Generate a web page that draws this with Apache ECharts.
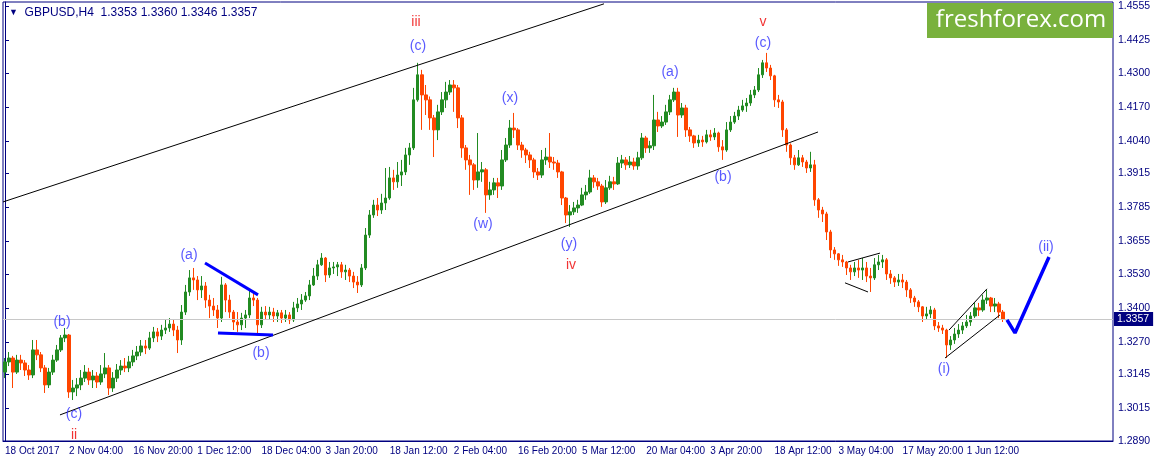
<!DOCTYPE html>
<html><head><meta charset="utf-8">
<script src="https://cdn.jsdelivr.net/npm/echarts@6/dist/echarts.min.js"></script>
<style>html,body{margin:0;padding:0;background:#fff}#c{width:1155px;height:464px}</style>
</head><body><div id="c"></div>
<script>
// ---- time axis labels (one every 64 H4 bars = every 16 slots) ----
const timeLabels = ['18 Oct 2017','2 Nov 04:00','16 Nov 20:00','1 Dec 12:00','18 Dec 04:00','3 Jan 20:00','18 Jan 12:00','2 Feb 04:00','16 Feb 20:00','5 Mar 12:00','20 Mar 04:00','3 Apr 20:00','18 Apr 12:00','3 May 04:00','17 May 20:00','1 Jun 12:00'];
const slotsPerLabel = 16;
const slotCount = 277;
const priceTicks = [1.4555,1.4425,1.4300,1.4170,1.4040,1.3915,1.3785,1.3655,1.3530,1.3400,1.3270,1.3145,1.3015,1.2890];
const headerText = 'GBPUSD,H4  1.3353 1.3360 1.3346 1.3357';

// ---- candles ----
const opens = [
1.3154,1.3193,1.3208,1.3154,1.3200,1.3189,1.3162,1.3143,1.3239,1.3220,
1.3170,1.3105,1.3154,1.3200,1.3239,1.3285,1.3296,1.3078,1.3093,1.3105,
1.3131,1.3154,1.3124,1.3139,1.3116,1.3147,1.3170,1.3093,1.3131,1.3162,
1.3177,1.3170,1.3193,1.3216,1.3231,1.3254,1.3246,1.3285,1.3308,1.3292,
1.3315,1.3323,1.3338,1.3315,1.3277,1.3384,1.3461,1.3515,1.3507,1.3469,
1.3484,1.3430,1.3407,1.3392,1.3361,1.3488,1.3430,1.3384,1.3346,1.3335,
1.3361,1.3373,1.3438,1.3430,1.3335,1.3384,1.3373,1.3384,1.3369,1.3381,
1.3361,1.3373,1.3354,1.3400,1.3415,1.3430,1.3446,1.3488,1.3522,1.3565,
1.3591,1.3526,1.3553,1.3557,1.3565,1.3538,1.3545,1.3522,1.3499,1.3488,
1.3553,1.3679,1.3756,1.3794,1.3775,1.3802,1.3821,1.3898,1.3883,1.3909,
1.3921,1.3986,1.4013,1.4197,1.4293,1.4216,1.4197,1.4128,1.4082,1.4151,
1.4197,1.4227,1.4254,1.4243,1.4128,1.4013,1.3967,1.3948,1.3890,1.3921,
1.3929,1.3833,1.3852,1.3879,1.3867,1.3967,1.4024,1.4089,1.4082,1.4024,
1.4005,1.3986,1.3967,1.3921,1.3909,1.3967,1.3978,1.3959,1.3955,1.3921,
1.3821,1.3756,1.3768,1.3783,1.3794,1.3833,1.3844,1.3898,1.3883,1.3867,
1.3806,1.3860,1.3883,1.3875,1.3955,1.3967,1.3948,1.3959,1.3944,1.3975,
1.4051,1.4013,1.4021,1.4120,1.4097,1.4112,1.4151,1.4197,1.4227,1.4139,
1.4166,1.4082,1.4059,1.4032,1.4043,1.4036,1.4063,1.4055,1.4070,1.4017,
1.4005,1.4082,1.4112,1.4135,1.4158,1.4174,1.4185,1.4216,1.4235,1.4293,
1.4339,1.4319,1.4289,1.4197,1.4189,1.4082,1.4024,1.3975,1.3948,1.3975,
1.3959,1.3936,1.3948,1.3814,1.3775,1.3760,1.3691,1.3622,1.3607,1.3584,
1.3576,1.3553,1.3538,1.3553,1.3545,1.3553,1.3522,1.3515,1.3565,1.3576,
1.3584,1.3530,1.3515,1.3499,1.3507,1.3499,1.3469,1.3438,1.3423,1.3404,
1.3369,1.3377,1.3392,1.3331,1.3323,1.3315,1.3258,1.3277,1.3300,1.3315,
1.3331,1.3346,1.3369,1.3400,1.3392,1.3430,1.3438,1.3407,1.3415,1.3384];
const closes = [
1.3193,1.3208,1.3154,1.3200,1.3189,1.3162,1.3143,1.3239,1.3220,1.3170,
1.3105,1.3154,1.3200,1.3239,1.3285,1.3296,1.3078,1.3093,1.3105,1.3131,
1.3154,1.3124,1.3139,1.3116,1.3147,1.3170,1.3093,1.3131,1.3162,1.3177,
1.3170,1.3193,1.3216,1.3231,1.3254,1.3246,1.3285,1.3308,1.3292,1.3315,
1.3323,1.3338,1.3315,1.3277,1.3384,1.3461,1.3515,1.3507,1.3469,1.3484,
1.3430,1.3407,1.3392,1.3361,1.3488,1.3430,1.3384,1.3346,1.3335,1.3361,
1.3373,1.3438,1.3430,1.3335,1.3384,1.3373,1.3384,1.3369,1.3381,1.3361,
1.3373,1.3354,1.3400,1.3415,1.3430,1.3446,1.3488,1.3522,1.3565,1.3591,
1.3526,1.3553,1.3557,1.3565,1.3538,1.3545,1.3522,1.3499,1.3488,1.3553,
1.3679,1.3756,1.3794,1.3775,1.3802,1.3821,1.3898,1.3883,1.3909,1.3921,
1.3986,1.4013,1.4197,1.4293,1.4216,1.4197,1.4128,1.4082,1.4151,1.4197,
1.4227,1.4254,1.4243,1.4128,1.4013,1.3967,1.3948,1.3890,1.3921,1.3929,
1.3833,1.3852,1.3879,1.3867,1.3967,1.4024,1.4089,1.4082,1.4024,1.4005,
1.3986,1.3967,1.3921,1.3909,1.3967,1.3978,1.3959,1.3955,1.3921,1.3821,
1.3756,1.3768,1.3783,1.3794,1.3833,1.3844,1.3898,1.3883,1.3867,1.3806,
1.3860,1.3883,1.3875,1.3955,1.3967,1.3948,1.3959,1.3944,1.3975,1.4051,
1.4013,1.4021,1.4120,1.4097,1.4112,1.4151,1.4197,1.4227,1.4139,1.4166,
1.4082,1.4059,1.4032,1.4043,1.4036,1.4063,1.4055,1.4070,1.4017,1.4005,
1.4082,1.4112,1.4135,1.4158,1.4174,1.4185,1.4216,1.4235,1.4293,1.4339,
1.4319,1.4289,1.4197,1.4189,1.4082,1.4024,1.3975,1.3948,1.3975,1.3959,
1.3936,1.3948,1.3814,1.3775,1.3760,1.3691,1.3622,1.3607,1.3584,1.3576,
1.3553,1.3538,1.3553,1.3545,1.3553,1.3522,1.3515,1.3565,1.3576,1.3584,
1.3530,1.3515,1.3499,1.3507,1.3499,1.3469,1.3438,1.3423,1.3404,1.3369,
1.3377,1.3392,1.3331,1.3323,1.3315,1.3258,1.3277,1.3300,1.3315,1.3331,
1.3346,1.3369,1.3400,1.3392,1.3430,1.3438,1.3407,1.3415,1.3384,1.3357];
const highs = [
1.3208,1.3231,1.3216,1.3220,1.3220,1.3200,1.3181,1.3277,1.3277,1.3231,
1.3181,1.3170,1.3220,1.3258,1.3296,1.3323,1.3300,1.3124,1.3131,1.3162,
1.3181,1.3170,1.3162,1.3154,1.3181,1.3227,1.3181,1.3154,1.3185,1.3200,
1.3208,1.3216,1.3239,1.3254,1.3277,1.3277,1.3308,1.3327,1.3323,1.3335,
1.3354,1.3361,1.3354,1.3331,1.3411,1.3488,1.3545,1.3553,1.3522,1.3522,
1.3499,1.3450,1.3438,1.3411,1.3519,1.3495,1.3450,1.3392,1.3384,1.3381,
1.3392,1.3469,1.3461,1.3438,1.3404,1.3407,1.3404,1.3400,1.3392,1.3392,
1.3392,1.3384,1.3423,1.3438,1.3453,1.3461,1.3507,1.3553,1.3584,1.3610,
1.3595,1.3576,1.3576,1.3576,1.3576,1.3565,1.3553,1.3538,1.3522,1.3568,
1.3706,1.3775,1.3814,1.3821,1.3837,1.3936,1.3940,1.3929,1.3959,1.3967,
1.4013,1.4032,1.4243,1.4339,1.4312,1.4254,1.4210,1.4139,1.4178,1.4227,
1.4266,1.4273,1.4273,1.4254,1.4139,1.4024,1.3986,1.3955,1.4070,1.3959,
1.3936,1.3883,1.3898,1.3898,1.4005,1.4051,1.4120,1.4147,1.4089,1.4036,
1.4013,1.3998,1.3975,1.3936,1.4005,1.4013,1.4070,1.3978,1.3967,1.3925,
1.3825,1.3794,1.3806,1.3814,1.3860,1.3871,1.3929,1.3909,1.3898,1.3875,
1.3890,1.3906,1.3902,1.3978,1.3986,1.3978,1.3982,1.3975,1.3998,1.4070,
1.4059,1.4040,1.4216,1.4151,1.4135,1.4178,1.4216,1.4243,1.4243,1.4185,
1.4178,1.4093,1.4063,1.4063,1.4059,1.4082,1.4082,1.4089,1.4075,1.4043,
1.4112,1.4135,1.4151,1.4174,1.4197,1.4204,1.4235,1.4250,1.4319,1.4350,
1.4377,1.4331,1.4293,1.4216,1.4197,1.4089,1.4030,1.3986,1.4005,1.3986,
1.3967,1.3998,1.3967,1.3821,1.3787,1.3768,1.3699,1.3633,1.3610,1.3603,
1.3580,1.3565,1.3576,1.3584,1.3591,1.3576,1.3553,1.3591,1.3603,1.3603,
1.3591,1.3545,1.3522,1.3530,1.3530,1.3507,1.3476,1.3446,1.3430,1.3407,
1.3404,1.3407,1.3400,1.3346,1.3335,1.3320,1.3292,1.3323,1.3338,1.3346,
1.3373,1.3384,1.3419,1.3419,1.3450,1.3469,1.3442,1.3438,1.3423,1.3392];
const lows = [
1.3131,1.3177,1.3093,1.3147,1.3162,1.3139,1.3124,1.3131,1.3200,1.3154,
1.3074,1.3093,1.3143,1.3193,1.3231,1.3269,1.3055,1.3047,1.3062,1.3085,
1.3116,1.3105,1.3093,1.3093,1.3105,1.3131,1.3066,1.3078,1.3116,1.3143,
1.3154,1.3154,1.3177,1.3200,1.3216,1.3223,1.3239,1.3269,1.3269,1.3277,
1.3300,1.3308,1.3292,1.3227,1.3258,1.3373,1.3446,1.3469,1.3430,1.3438,
1.3400,1.3361,1.3369,1.3323,1.3346,1.3384,1.3361,1.3315,1.3308,1.3315,
1.3323,1.3361,1.3407,1.3300,1.3323,1.3354,1.3354,1.3346,1.3346,1.3342,
1.3346,1.3338,1.3346,1.3384,1.3392,1.3423,1.3430,1.3484,1.3507,1.3561,
1.3499,1.3515,1.3530,1.3522,1.3515,1.3507,1.3499,1.3476,1.3457,1.3480,
1.3545,1.3668,1.3745,1.3752,1.3760,1.3775,1.3814,1.3852,1.3860,1.3867,
1.3909,1.3948,1.4005,1.4190,1.4082,1.4139,1.4082,1.3978,1.4043,1.4139,
1.4166,1.4216,1.4151,1.4089,1.3975,1.3929,1.3833,1.3852,1.3860,1.3883,
1.3764,1.3814,1.3833,1.3821,1.3852,1.3959,1.4013,1.4051,1.4005,1.3975,
1.3955,1.3936,1.3898,1.3890,1.3898,1.3948,1.3936,1.3929,1.3898,1.3794,
1.3725,1.3710,1.3756,1.3764,1.3790,1.3814,1.3837,1.3860,1.3852,1.3787,
1.3798,1.3852,1.3852,1.3871,1.3936,1.3929,1.3936,1.3929,1.3929,1.3967,
1.3994,1.3994,1.4005,1.4074,1.4089,1.4101,1.4139,1.4189,1.4055,1.4128,
1.4055,1.4036,1.4013,1.4017,1.4017,1.4030,1.4040,1.4043,1.3998,1.3967,
1.3998,1.4074,1.4105,1.4120,1.4151,1.4151,1.4174,1.4204,1.4227,1.4281,
1.4304,1.4273,1.4170,1.4166,1.4055,1.3998,1.3948,1.3929,1.3944,1.3940,
1.3917,1.3921,1.3791,1.3745,1.3729,1.3660,1.3591,1.3584,1.3561,1.3557,
1.3526,1.3507,1.3522,1.3515,1.3507,1.3499,1.3461,1.3507,1.3545,1.3553,
1.3507,1.3492,1.3480,1.3484,1.3476,1.3442,1.3419,1.3404,1.3384,1.3346,
1.3354,1.3361,1.3315,1.3308,1.3300,1.3208,1.3239,1.3262,1.3285,1.3300,
1.3323,1.3331,1.3361,1.3369,1.3385,1.3415,1.3384,1.3384,1.3361,1.3346];

// ---- annotations (slot index, price) ----
const channelLines = [[-0.5,1.3806,149.48,1.4565],[13.72,1.2990,202.89,1.4074]];
const thinLines = [[210.37,1.3576,218.36,1.3610],[209.62,1.3496,215.36,1.3461],[234.58,1.3208,248.30,1.3373],[235.58,1.3315,245.06,1.3473]];
const blueLines = [[49.91,1.3572,63.14,1.3450],[53.15,1.3304,66.88,1.3296]];
const projX = [250.05,252.04,260.53];
const projP = [1.3354,1.3304,1.3595];
const waveText = ['(b)','(c)','ii','(a)','(b)','iii','(c)','(w)','(x)','(y)','iv','(a)','(b)','v','(c)','(i)','(ii)'];
const waveX = [14.22,17.22,17.22,45.92,63.88,102.56,103.06,119.28,126.02,140.75,141.25,165.95,179.18,189.16,189.16,234.33,259.78];
const waveP = [1.3346,1.2994,1.2913,1.3603,1.3227,1.4496,1.4404,1.3722,1.4204,1.3645,1.3565,1.4304,1.3902,1.4496,1.4415,1.3166,1.3633];
const waveMajor = [0,0,1,0,0,1,0,0,0,0,1,0,0,1,0,0,0];

const navy = '#000080';
const font = 'Liberation Sans, Arial, sans-serif';
const categories = Array.from({length: slotCount}, (_, i) =>
  (i % slotsPerLabel === 0 && i / slotsPerLabel < timeLabels.length) ? timeLabels[i / slotsPerLabel] : '');
const candleData = opens.map((o, i) => [o, closes[i], lows[i], highs[i]]);
const lastClose = closes[closes.length - 1];

function segSeries(arr, color, width) {
  return arr.map(s => ({
    type: 'line', xAxisIndex: 1, yAxisIndex: 0, silent: true, symbol: 'none', z: 5,
    data: [[s[0], s[1]], [s[2], s[3]]], lineStyle: {color: color, width: width}, animation: false
  }));
}

const chart = echarts.init(document.getElementById('c'));
chart.setOption({
  animation: false,
  backgroundColor: '#fff',
  title: {
    text: '{t|▼}  ' + headerText, left: 4, top: 2,
    textStyle: {fontSize: 12, fontWeight: 'normal', color: navy, fontFamily: font,
      rich: {t: {fontSize: 9, color: navy}}}
  },
  grid: {left: 3, right: 42, top: 2, bottom: 23, show: true, borderColor: navy, borderWidth: 1, containLabel: false},
  xAxis: [{
    type: 'category', data: categories, boundaryGap: true,
    axisLine: {lineStyle: {color: navy}},
    axisTick: {length: 4, lineStyle: {color: navy}, interval: (i, v) => v !== ''},
    axisLabel: {interval: 0, align: 'left', margin: 5, color: navy, fontSize: 10, fontFamily: font,
      formatter: v => v},
    splitLine: {show: false}
  }, {
    type: 'value', min: -0.5, max: slotCount - 0.5, show: false
  }],
  yAxis: [{
    type: 'value', position: 'right', min: 1.2890, max: 1.4572, scale: true,
    axisLine: {show: true, lineStyle: {color: navy}},
    axisTick: {show: true, length: 4, lineStyle: {color: navy}, customValues: priceTicks},
    axisLabel: {color: navy, fontSize: 10.5, fontFamily: font, margin: 5, customValues: priceTicks,
      formatter: v => v.toFixed(4)},
    splitLine: {show: false}
  }],
  graphic: [
    {type: 'rect', shape: {x: 927, y: 3, width: 186, height: 35}, style: {fill: '#79b13d'}, z: 50},
    {type: 'text', x: 1021, y: 20, z: 51, style: {text: 'freshforex.com', fill: '#fff',
      font: '24px "Open Sans", "Noto Sans", sans-serif', align: 'center', verticalAlign: 'middle'}}
  ],
  series: [
    {
      type: 'candlestick', xAxisIndex: 0, yAxisIndex: 0, data: candleData, barWidth: 3,
      itemStyle: {color: '#228B22', color0: '#FF4500', borderColor: '#228B22', borderColor0: '#FF4500', borderWidth: 1},
      z: 3,
      markLine: {
        silent: true, symbol: ['none', 'none'], animation: false, precision: 4,
        data: [{yAxis: lastClose}],
        lineStyle: {color: '#c8c8c8', type: 'solid', width: 1},
        label: {show: true, position: 'end', distance: 1, formatter: lastClose.toFixed(4),
          color: '#fff', backgroundColor: navy, padding: [2, 4, 1, 3], fontSize: 10.5, fontFamily: font}
      }
    },
    ...segSeries(channelLines, '#000000', 1),
    ...segSeries(thinLines, '#000000', 1),
    ...segSeries(blueLines, '#0000ff', 3),
    {
      type: 'line', xAxisIndex: 1, yAxisIndex: 0, silent: true, symbol: 'none', z: 6,
      data: projX.map((x, i) => [x, projP[i]]), lineStyle: {color: '#0000ff', width: 3.5}
    },
    {
      type: 'scatter', xAxisIndex: 1, yAxisIndex: 0, silent: true, symbolSize: 1, z: 7,
      itemStyle: {color: 'rgba(0,0,0,0)'},
      data: waveText.map((t, i) => ({value: [waveX[i], waveP[i]], name: t,
        label: {color: waveMajor[i] ? '#ee0000' : '#2f2fff'}})),
      label: {show: true, position: 'inside', formatter: p => p.name, fontSize: 14, fontFamily: font}
    }
  ]
});
</script>
</body></html>
